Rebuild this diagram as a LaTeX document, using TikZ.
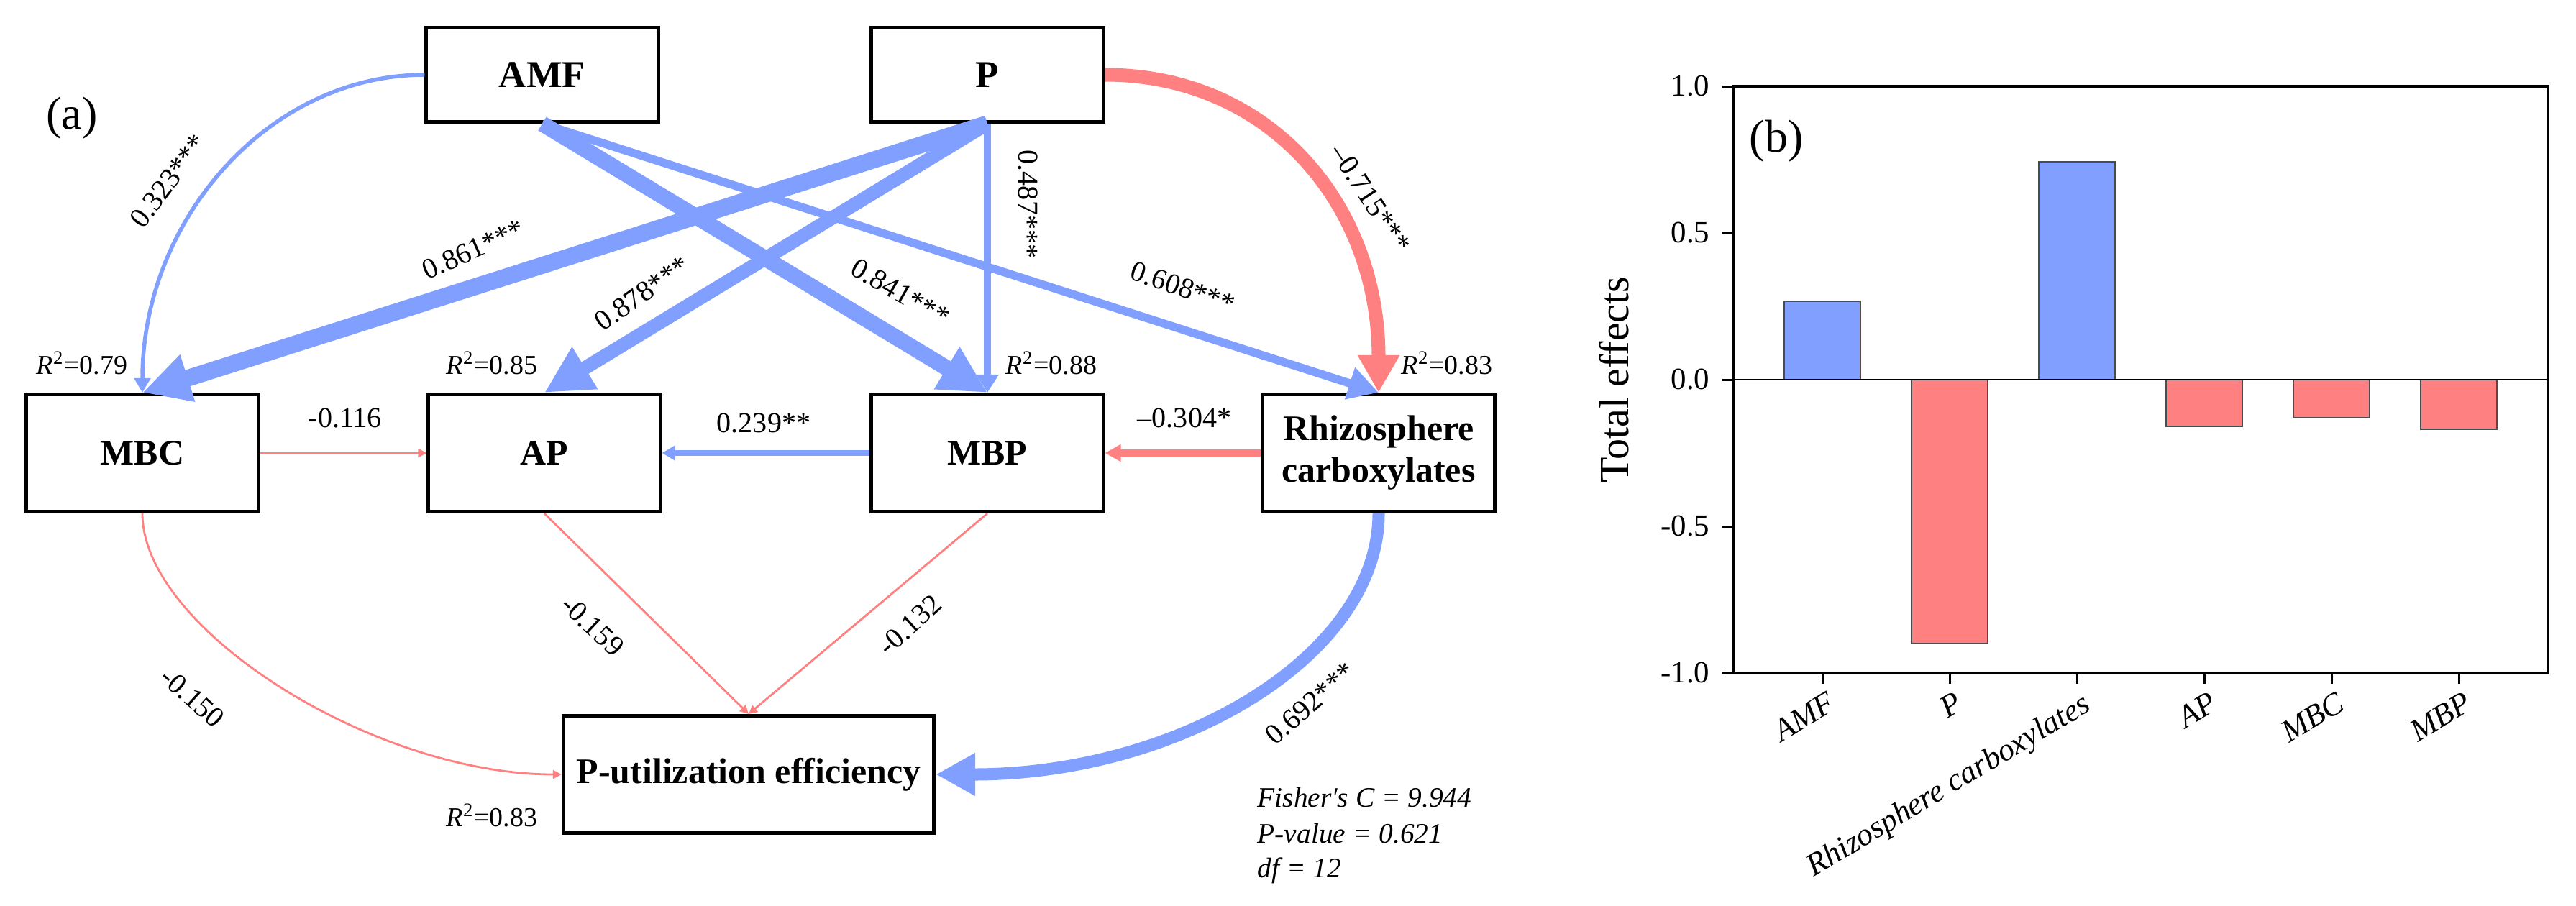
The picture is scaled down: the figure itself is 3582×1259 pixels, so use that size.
\documentclass[tikz,border=0pt]{standalone}
\usepackage{fontspec}
\setmainfont{Liberation Serif}
\usetikzlibrary{arrows.meta}
\definecolor{bl}{RGB}{128,159,255}
\definecolor{rd}{RGB}{255,128,128}
\tikzset{
  box/.style={draw, line width=0.05cm, inner sep=0pt, minimum width=3.22cm, minimum height=1.63cm,
    align=center, font=\bfseries\fontsize{14.2pt}{16.5pt}\selectfont},
  topbox/.style={box, minimum height=1.31cm, font=\bfseries\fontsize{15pt}{17pt}\selectfont},
  be/.style={draw=bl},
  re/.style={draw=rd},
  tipXL/.style={-{Triangle[length=0.66cm,width=0.64cm]}},
  tipS/.style={-{Triangle[length=0.12cm,width=0.12cm]}},
  lab/.style={inner sep=0pt, font=\fontsize{11.4pt}{13pt}\selectfont},
  rlab/.style={inner sep=0pt, font=\fontsize{10.8pt}{12pt}\selectfont},
  fis/.style={inner sep=0pt, font=\itshape\fontsize{11.2pt}{13pt}\selectfont},
  ticklab/.style={inner sep=0pt, font=\fontsize{12.2pt}{14pt}\selectfont},
  catlab/.style={inner sep=0pt, font=\itshape\fontsize{12.5pt}{14pt}\selectfont},
}
\begin{document}
\begin{tikzpicture}[x=0.01cm,y=-0.01cm]
\useasboundingbox (0,0) rectangle (3582,1259);

% ---------------- panel (a) ----------------
\node[font=\fontsize{18.2pt}{20pt}\selectfont, inner sep=0pt] (pa) at (100,164) {(a)};

\node[topbox] (AMF) at (754,104) {AMF};
\node[topbox] (P) at (1373,104) {P};
\node[box] (MBC) at (198,630) {MBC};
\node[box] (AP) at (757,630) {AP};
\node[box] (MBP) at (1373,630) {MBP};
\node[box] (RC) at (1917,630) {Rhizosphere\\carboxylates};
\node[box, minimum width=5.15cm] (PUE) at (1041,1077) {P-utilization efficiency};

% connectors
\draw[be, line width=0.055cm, -{Triangle[length=0.2cm,width=0.22cm]}]
  (AMF.west) .. controls (375,104) and (198,304) .. (MBC.north);
\draw[be, line width=0.22cm, tipXL] (AMF.south) -- (MBP.north);
\draw[be, line width=0.115cm, -{Triangle[length=0.42cm,width=0.44cm]}] (AMF.south) -- (RC.north);
\draw[be, line width=0.235cm, tipXL] (P.south) -- (MBC.north);
\draw[be, line width=0.19cm, tipXL] (P.south) -- (AP.north);
\draw[be, line width=0.1cm, -{Triangle[length=0.25cm,width=0.3cm]}] (P.south) -- (MBP.north);
\draw[re, line width=0.19cm, -{Triangle[length=0.52cm,width=0.55cm]}]
  (P.east) .. controls (1764,104) and (1917,283) .. (RC.north);
\draw[re, line width=0.028cm, tipS] (MBC.east) -- (AP.west);
\draw[be, line width=0.075cm, -{Triangle[length=0.18cm,width=0.2cm]}] (MBP.west) -- (AP.east);
\draw[re, line width=0.095cm, -{Triangle[length=0.22cm,width=0.23cm]}] (RC.west) -- (MBP.east);
\draw[re, line width=0.028cm, tipS]
  (MBC.south) .. controls (198,875) and (520,1077) .. (PUE.west);
\draw[re, line width=0.028cm, tipS] (AP.south) -- (PUE.north);
\draw[re, line width=0.028cm, tipS] (MBP.south) -- (PUE.north);
\draw[be, line width=0.17cm, -{Triangle[length=0.55cm,width=0.56cm]}]
  (RC.south) .. controls (1917,912) and (1640,1077) .. (PUE.east);

% edge labels
\node[lab, rotate=53] (l323) at (234,252) {0.323***};
\node[lab, rotate=24] (l861) at (658,347) {0.861***};
\node[lab, rotate=35] (l878) at (893,408) {0.878***};
\node[lab, rotate=-30] (l841) at (1252,407) {0.841***};
\node[lab, rotate=-90] (l487) at (1430,284) {0.487***};
\node[lab, rotate=-19] (l608) at (1645,400) {0.608***};
\node[lab, rotate=-57] (l715) at (1906,276) {–0.715***};
\node[lab] (l116) at (480,581) {-0.116};
\node[lab] (l239) at (1062,588) {0.239**};
\node[lab] (l304) at (1647,581) {–0.304*};
\node[lab, rotate=-43] (l159) at (824,870) {-0.159};
\node[lab, rotate=-42] (l150) at (268,970) {-0.150};
\node[lab, rotate=42] (l132) at (1265,869) {-0.132};
\node[lab, rotate=41] (l692) at (1822,978) {0.692***};

% R2 labels
\node[rlab] (r1) at (114,505) {\textit{R}\textsuperscript{2}=0.79};
\node[rlab] (r2) at (684,505) {\textit{R}\textsuperscript{2}=0.85};
\node[rlab] (r3) at (1462,505) {\textit{R}\textsuperscript{2}=0.88};
\node[rlab] (r4) at (2012,505) {\textit{R}\textsuperscript{2}=0.83};
\node[rlab] (r5) at (684,1134) {\textit{R}\textsuperscript{2}=0.83};

% fit statistics
\node[fis, anchor=base west] (f1) at (1748,1122) {Fisher\textquotesingle s C = 9.944};
\node[fis, anchor=base west] (f2) at (1748,1172) {P-value = 0.621};
\node[fis, anchor=base west] (f3) at (1748,1220) {df = 12};

% ---------------- panel (b) ----------------
\foreach \cx/\yv/\c in {2534/419/bl, 2711/895/rd, 2888/225/bl, 3065/593/rd, 3242/581/rd, 3419/597/rd}
  \filldraw[fill=\c, draw=black!70, line width=0.015cm] (\cx-53,528) rectangle (\cx+53,\yv);
\draw[line width=0.02cm] (2410,528) -- (3543,528);
\draw[line width=0.035cm] (2410,120) rectangle (3543,936);
\foreach \yy/\t [count=\i] in {120/1.0, 324/0.5, 528/0.0, 732/-0.5, 936/-1.0}{
  \draw[line width=0.03cm] (2395,\yy) -- (2410,\yy);
  \node[ticklab, anchor=east] (yl\i) at (2378,\yy) {\t};
}
\foreach \cx/\t [count=\i] in {2534/AMF, 2711/P, 2888/Rhizosphere carboxylates, 3065/AP, 3242/MBC, 3419/MBP}{
  \draw[line width=0.03cm] (\cx,936) -- (\cx,951);
  \node[catlab, anchor=north east, rotate=31] (cat\i) at (\cx+6,960) {\t};
}
\node[inner sep=0pt, rotate=90, font=\fontsize{16.5pt}{18pt}\selectfont] (ytitle) at (2244,528) {Total effects};
\node[inner sep=0pt, font=\fontsize{18.2pt}{20pt}\selectfont] (pb) at (2470,196) {(b)};
\end{tikzpicture}
\end{document}
